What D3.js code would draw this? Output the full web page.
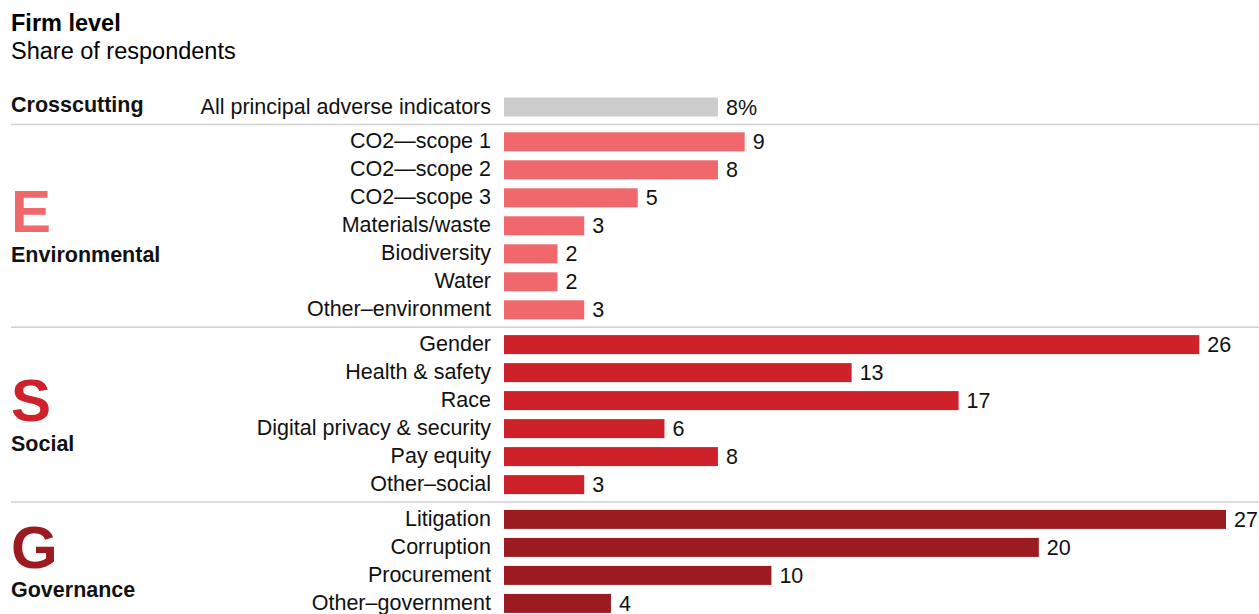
<!DOCTYPE html>
<html>
<head>
<meta charset="utf-8">
<script src="https://cdnjs.cloudflare.com/ajax/libs/d3/7.8.5/d3.min.js"></script>
<style>
  body { margin: 0; background: #fff; }
  svg { display: block; font-family: "Liberation Sans", Arial, Helvetica, sans-serif; }
</style>
</head>
<body>
<svg id="chart"></svg>
<script>
// data
const groupNames = ["Crosscutting", "Environmental", "Social", "Governance"];
const groupLetters = ["", "E", "S", "G"];
const groupColors = ["#cccccc", "#f0686b", "#cf2129", "#9b1b21"];

const categories = [
  "All principal adverse indicators",
  "CO2\u2014scope 1", "CO2\u2014scope 2", "CO2\u2014scope 3", "Materials/waste",
  "Biodiversity", "Water", "Other\u2013environment",
  "Gender", "Health & safety", "Race", "Digital privacy & security", "Pay equity", "Other\u2013social",
  "Litigation", "Corruption", "Procurement", "Other\u2013government"
];
const values = [8, 9, 8, 5, 3, 2, 2, 3, 26, 13, 17, 6, 8, 3, 27, 20, 10, 4];
const groupOf = [0, 1, 1, 1, 1, 1, 1, 1, 2, 2, 2, 2, 2, 2, 3, 3, 3, 3];

const W = 1259, H = 614;
const svg = d3.select("#chart").attr("width", W).attr("height", H);

const x = d3.scaleLinear().domain([0, 27]).range([504, 1226]);
const rowStep = 28, groupGap = 6.8, barH = 19, top0 = 97.5;
const yTop = i => top0 + i * rowStep + groupOf[i] * groupGap;

// title
svg.append("text").attr("x", 11).attr("y", 31).style("font-size", "23.5px").style("font-weight", "bold").text("Firm level");
svg.append("text").attr("x", 11).attr("y", 59).style("font-size", "23.5px").text("Share of respondents");

// separators between groups
const sepIdx = [1, 8, 14];
svg.selectAll("line.sep").data(sepIdx).join("line")
  .attr("class", "sep")
  .attr("x1", 11).attr("x2", W)
  .attr("y1", i => (yTop(i - 1) + barH + yTop(i)) / 2)
  .attr("y2", i => (yTop(i - 1) + barH + yTop(i)) / 2)
  .style("stroke", "#d0d0d0").style("stroke-width", 1.5);

// bars
const rows = categories.map((c, i) => ({ c, v: values[i], g: groupOf[i], i }));
svg.selectAll("rect.bar").data(rows).join("rect")
  .attr("class", "bar")
  .attr("x", x(0))
  .attr("y", d => yTop(d.i))
  .attr("width", d => x(d.v) - x(0))
  .attr("height", barH)
  .style("fill", d => groupColors[d.g]);

// category labels
svg.selectAll("text.cat").data(rows).join("text")
  .attr("class", "cat")
  .attr("x", 491)
  .attr("y", d => yTop(d.i) + 16)
  .attr("text-anchor", "end")
  .style("font-size", "21.5px").style("fill", "#111")
  .text(d => d.c);

// value labels
svg.selectAll("text.val").data(rows).join("text")
  .attr("class", "val")
  .attr("x", d => x(d.v) + 8)
  .attr("y", d => yTop(d.i) + 17)
  .style("font-size", "21.5px").style("fill", "#111")
  .text(d => d.i === 0 ? d.v + "%" : d.v);

// group labels
const gInfo = groupNames.map((name, g) => {
  const idx = rows.filter(r => r.g === g).map(r => r.i);
  const y0 = yTop(d3.min(idx)), y1 = yTop(d3.max(idx)) + barH;
  return { name, g, mid: (y0 + y1) / 2, y0 };
});

svg.append("text").attr("x", 11).attr("y", yTop(0) + 14.5)
  .style("font-size", "21.5px").style("font-weight", "bold").style("fill", "#111")
  .text(groupNames[0]);

const gl = svg.selectAll("g.grp").data(gInfo.slice(1)).join("g").attr("class", "grp");
gl.append("text")
  .attr("x", 11).attr("y", d => d.mid + 6.5)
  .style("font-size", "60px").style("font-weight", "bold")
  .style("fill", d => groupColors[d.g])
  .text(d => groupLetters[d.g]);
gl.append("text")
  .attr("x", 11).attr("y", d => d.mid + 36)
  .style("font-size", "21.5px").style("font-weight", "bold").style("fill", "#111")
  .text(d => d.name);
</script>
</body>
</html>
